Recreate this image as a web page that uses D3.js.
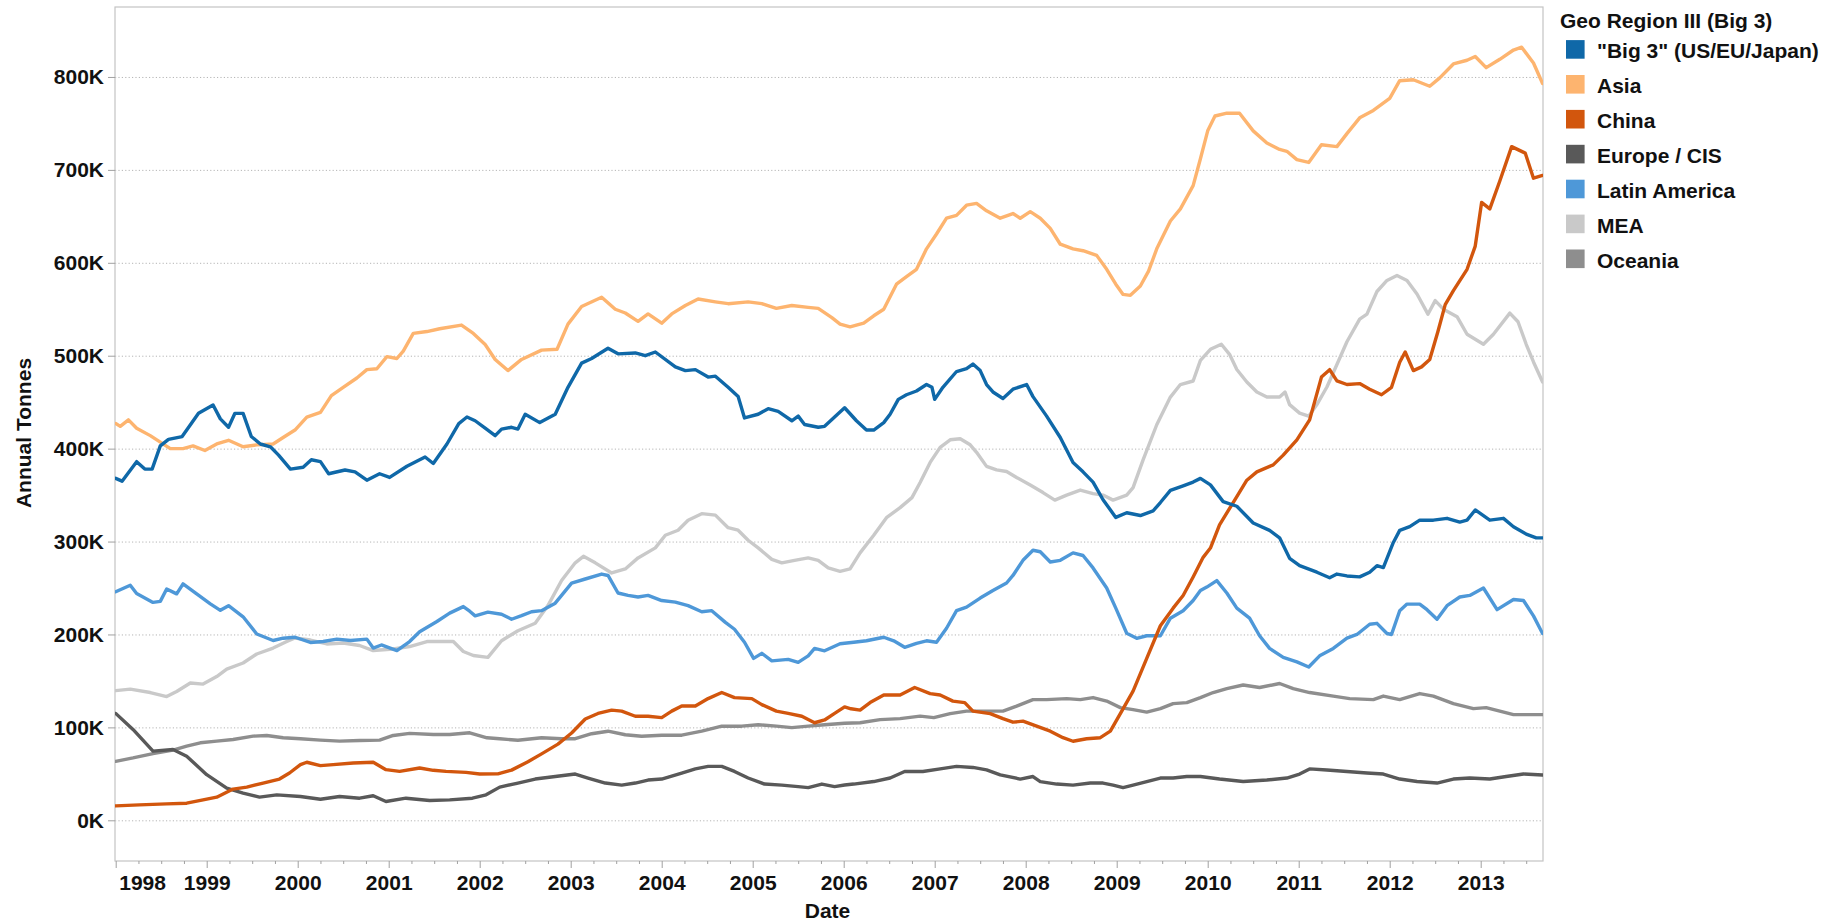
<!DOCTYPE html>
<html>
<head>
<meta charset="utf-8">
<script src="https://cdn.jsdelivr.net/npm/d3@7/dist/d3.min.js"></script>
<style>
  html, body { margin: 0; padding: 0; background: #fff; }
  svg { display: block; }
  text { font-family: "Liberation Sans", Arial, sans-serif; font-weight: bold; fill: #111; }
</style>
</head>
<body>
<svg id="chart" width="1843" height="921"></svg>
<script>
// ---- DATA (values in thousands of tonnes, dates as decimal years) ----
const legendTitle = "Geo Region III (Big 3)";
const categories = ['"Big 3" (US/EU/Japan)', "Asia", "China", "Europe / CIS", "Latin America", "MEA", "Oceania"];
const yTicks = [0, 100, 200, 300, 400, 500, 600, 700, 800];
const yearTicks = [1998,1999,2000,2001,2002,2003,2004,2005,2006,2007,2008,2009,2010,2011,2012,2013];

const big3 = [[1998.00,368],[1998.07,365],[1998.23,386],[1998.32,378],[1998.40,378],[1998.49,403],[1998.58,410],[1998.73,413],[1998.91,438],[1999.07,447],[1999.15,432],[1999.24,423],[1999.31,438],[1999.40,438],[1999.49,413],[1999.59,405],[1999.70,402],[1999.79,393],[1999.92,378],[2000.06,380],[2000.15,388],[2000.25,386],[2000.34,373],[2000.52,377],[2000.63,375],[2000.76,366],[2000.90,373],[2001.01,369],[2001.20,381],[2001.40,391],[2001.49,384],[2001.64,405],[2001.77,427],[2001.86,434],[2001.95,430],[2002.06,422],[2002.17,414],[2002.24,421],[2002.35,423],[2002.42,421],[2002.50,437],[2002.66,428],[2002.83,437],[2002.97,466],[2003.12,492],[2003.23,497],[2003.41,508],[2003.52,502],[2003.71,503],[2003.82,500],[2003.93,504],[2004.15,488],[2004.26,484],[2004.37,485],[2004.51,477],[2004.59,478],[2004.73,466],[2004.84,456],[2004.91,433],[2005.06,437],[2005.17,443],[2005.28,440],[2005.43,430],[2005.50,435],[2005.57,426],[2005.72,423],[2005.79,424],[2005.90,434],[2006.01,444],[2006.14,430],[2006.25,420],[2006.33,420],[2006.44,428],[2006.51,437],[2006.60,453],[2006.69,458],[2006.80,462],[2006.91,469],[2006.97,466],[2007.00,453],[2007.09,466],[2007.24,483],[2007.35,486],[2007.42,491],[2007.50,484],[2007.57,469],[2007.64,461],[2007.75,454],[2007.86,464],[2008.01,469],[2008.08,456],[2008.23,435],[2008.38,412],[2008.52,385],[2008.63,375],[2008.74,364],[2008.85,345],[2008.99,326],[2009.11,331],[2009.26,328],[2009.40,333],[2009.48,342],[2009.59,355],[2009.73,360],[2009.84,364],[2009.92,368],[2010.03,361],[2010.17,343],[2010.32,338],[2010.50,320],[2010.68,312],[2010.79,304],[2010.90,282],[2011.01,274],[2011.20,267],[2011.34,261],[2011.42,265],[2011.53,263],[2011.67,262],[2011.78,267],[2011.86,274],[2011.93,272],[2012.04,299],[2012.11,312],[2012.22,316],[2012.33,323],[2012.48,323],[2012.63,325],[2012.77,321],[2012.85,323],[2012.94,334],[2013.10,323],[2013.25,325],[2013.36,316],[2013.50,308],[2013.61,304],[2013.68,304]];

const asia = [[1998.00,427],[1998.05,424],[1998.14,431],[1998.23,422],[1998.38,414],[1998.49,407],[1998.60,400],[1998.74,400],[1998.85,403],[1998.98,398],[1999.11,405],[1999.24,409],[1999.40,402],[1999.55,404],[1999.73,405],[1999.84,412],[1999.97,420],[2000.10,434],[2000.25,439],[2000.37,457],[2000.50,466],[2000.65,476],[2000.76,485],[2000.87,486],[2000.98,499],[2001.09,497],[2001.16,505],[2001.27,524],[2001.42,526],[2001.56,529],[2001.80,533],[2001.93,524],[2002.06,512],[2002.17,496],[2002.31,484],[2002.46,496],[2002.68,506],[2002.85,507],[2002.97,534],[2003.12,553],[2003.34,563],[2003.49,550],[2003.60,546],[2003.74,537],[2003.85,545],[2004.00,535],[2004.11,545],[2004.26,554],[2004.40,561],[2004.59,558],[2004.73,556],[2004.95,558],[2005.10,556],[2005.26,551],[2005.43,554],[2005.61,552],[2005.72,551],[2005.87,541],[2005.96,534],[2006.07,531],[2006.22,535],[2006.33,543],[2006.44,550],[2006.58,577],[2006.69,585],[2006.80,593],[2006.91,615],[2007.02,631],[2007.13,648],[2007.24,651],[2007.35,662],[2007.46,664],[2007.57,656],[2007.72,648],[2007.86,653],[2007.94,648],[2008.05,655],[2008.16,648],[2008.27,637],[2008.38,620],[2008.52,615],[2008.63,613],[2008.78,608],[2008.89,593],[2008.99,577],[2009.07,566],[2009.15,565],[2009.26,575],[2009.35,591],[2009.44,615],[2009.59,645],[2009.70,658],[2009.84,683],[2009.92,712],[2010.00,742],[2010.08,758],[2010.21,761],[2010.35,761],[2010.50,742],[2010.65,729],[2010.79,722],[2010.87,720],[2010.98,711],[2011.11,708],[2011.25,727],[2011.42,725],[2011.53,739],[2011.67,756],[2011.82,764],[2012.00,777],[2012.11,796],[2012.26,797],[2012.44,790],[2012.55,799],[2012.70,814],[2012.85,818],[2012.94,822],[2013.06,810],[2013.21,819],[2013.36,829],[2013.45,832],[2013.58,815],[2013.68,793]];

const china = [[1998.00,15.5],[1998.26,16.6],[1998.56,17.7],[1998.78,18.4],[1998.96,22],[1999.11,24.9],[1999.29,33.6],[1999.44,35.7],[1999.62,40.1],[1999.80,44.4],[1999.91,50.9],[2000.03,59.9],[2000.10,62.5],[2000.25,58.8],[2000.39,59.9],[2000.61,61.7],[2000.83,62.5],[2000.97,54.5],[2001.12,52.7],[2001.34,56.3],[2001.49,53.8],[2001.63,52.7],[2001.85,51.6],[2002.00,49.8],[2002.20,50],[2002.35,54],[2002.53,63],[2002.68,71.5],[2002.86,82],[2003.01,94],[2003.16,109],[2003.30,115],[2003.45,118.6],[2003.56,117.5],[2003.71,112],[2003.85,112],[2004.00,110.5],[2004.11,117.5],[2004.22,123],[2004.37,123],[2004.51,131],[2004.66,137.5],[2004.80,132],[2004.99,131],[2005.10,124.5],[2005.26,117.5],[2005.39,115],[2005.54,112],[2005.68,105],[2005.79,108],[2005.90,115],[2006.01,122],[2006.08,120],[2006.18,118.6],[2006.29,126.7],[2006.44,134.8],[2006.62,134.8],[2006.78,142.9],[2006.95,136.4],[2007.06,134.8],[2007.20,128.3],[2007.33,126.7],[2007.42,117.5],[2007.61,114.8],[2007.75,109.4],[2007.86,105.6],[2007.97,106.7],[2008.12,101.3],[2008.27,95.9],[2008.41,88.9],[2008.52,85.1],[2008.67,87.8],[2008.82,88.9],[2008.93,95.9],[2009.04,114.8],[2009.18,139.1],[2009.33,174.3],[2009.48,209.4],[2009.62,228.3],[2009.73,241.9],[2009.84,261.9],[2009.95,283],[2010.03,293],[2010.13,318],[2010.28,342],[2010.43,366],[2010.54,375],[2010.72,382.5],[2010.83,393],[2010.98,409.5],[2011.12,431],[2011.25,477],[2011.34,485],[2011.42,473],[2011.53,469],[2011.67,470],[2011.78,464],[2011.91,458],[2012.02,466],[2012.11,493],[2012.17,504],[2012.26,484],[2012.35,488],[2012.44,496],[2012.53,526],[2012.61,555],[2012.70,570],[2012.85,593],[2012.94,618],[2013.01,665],[2013.10,658],[2013.21,688],[2013.34,725],[2013.49,718],[2013.58,691],[2013.68,694]];

const europe = [[1998.00,115],[1998.19,97.8],[1998.41,74.4],[1998.63,76.2],[1998.78,69],[1999.00,49.1],[1999.22,34.7],[1999.40,29.2],[1999.58,24.9],[1999.77,27.4],[2000.03,25.6],[2000.25,22.7],[2000.46,25.6],[2000.68,23.8],[2000.83,26.4],[2000.97,20.2],[2001.19,23.8],[2001.45,21.3],[2001.67,22],[2001.92,23.8],[2002.07,27.4],[2002.22,35.7],[2002.42,40.1],[2002.61,44.4],[2002.83,47.1],[2003.05,49.8],[2003.19,45.5],[2003.38,40.1],[2003.56,37.9],[2003.71,40.1],[2003.85,43.3],[2004.00,44.4],[2004.22,50.9],[2004.37,55.3],[2004.51,58],[2004.66,58],[2004.80,52.6],[2004.95,45.5],[2005.13,39],[2005.32,37.9],[2005.50,36.3],[2005.61,35.2],[2005.76,39],[2005.90,36.3],[2006.01,38],[2006.11,39],[2006.33,41.7],[2006.51,45.5],[2006.67,52.5],[2006.87,52.5],[2007.06,55.3],[2007.24,58],[2007.42,56.9],[2007.57,54.2],[2007.72,48.8],[2007.94,44.4],[2008.08,47.1],[2008.16,41.7],[2008.34,39],[2008.52,37.9],[2008.71,40.1],[2008.85,40.1],[2008.96,37.9],[2009.07,35.2],[2009.18,37.9],[2009.33,41.7],[2009.48,45.5],[2009.62,45.5],[2009.77,47.1],[2009.92,47.1],[2010.13,44.4],[2010.39,41.7],[2010.65,43.4],[2010.87,45.5],[2011.01,49.8],[2011.12,55.3],[2011.31,54.2],[2011.53,52.5],[2011.75,50.9],[2011.93,49.8],[2012.11,44.4],[2012.30,41.7],[2012.52,40.1],[2012.70,44.4],[2012.88,45.5],[2013.10,44.4],[2013.28,47.1],[2013.47,49.8],[2013.68,48.8]];

const latam = [[1998.00,246],[1998.16,253],[1998.23,244],[1998.41,234.5],[1998.49,235.6],[1998.56,249],[1998.67,243.7],[1998.74,254.5],[1998.89,243.7],[1999.04,233],[1999.15,226],[1999.24,231],[1999.40,219],[1999.55,200.5],[1999.73,193.5],[1999.84,196],[1999.97,197],[2000.14,191.4],[2000.28,192.4],[2000.43,195],[2000.58,193.5],[2000.76,195],[2000.83,185.4],[2000.92,188.7],[2001.09,182.7],[2001.23,192.4],[2001.34,203],[2001.53,214],[2001.67,223],[2001.82,230],[2001.89,225],[2001.95,220],[2002.09,224],[2002.24,221.8],[2002.35,216.4],[2002.46,220.2],[2002.57,224.5],[2002.68,225.6],[2002.83,233.7],[2003.01,255.3],[2003.16,259.7],[2003.34,265],[2003.41,263.5],[2003.52,244.6],[2003.63,242],[2003.74,240.3],[2003.85,242],[2004.00,236.5],[2004.15,234.8],[2004.29,231],[2004.44,224.5],[2004.55,225.6],[2004.70,213],[2004.80,205.6],[2004.91,191.6],[2005.01,174.3],[2005.10,179.7],[2005.21,171.6],[2005.39,173.2],[2005.50,170],[2005.61,177],[2005.68,185],[2005.79,182.4],[2005.96,190],[2006.11,191.6],[2006.25,193.2],[2006.44,197],[2006.55,193.2],[2006.67,186.2],[2006.80,190.5],[2006.91,193.2],[2007.02,191.6],[2007.13,206.7],[2007.24,225.6],[2007.35,229.4],[2007.50,239.2],[2007.64,247.3],[2007.79,255.4],[2007.86,263.5],[2007.97,279.8],[2008.08,290.6],[2008.16,289],[2008.27,278],[2008.38,279.8],[2008.52,287.8],[2008.63,285],[2008.74,271.6],[2008.89,250],[2008.99,228.3],[2009.11,201.3],[2009.22,195.9],[2009.33,198.6],[2009.48,198.6],[2009.59,217.5],[2009.73,225.6],[2009.84,236.5],[2009.92,247.3],[2009.99,251],[2010.10,258],[2010.21,244.6],[2010.32,228.3],[2010.46,217.5],[2010.57,198.6],[2010.68,185],[2010.83,175.3],[2010.98,170.5],[2011.11,165],[2011.23,177],[2011.38,185],[2011.53,196],[2011.64,200],[2011.78,211],[2011.86,212],[2011.97,201],[2012.02,200],[2012.11,225.6],[2012.19,232.7],[2012.33,232.7],[2012.41,226.7],[2012.52,216.4],[2012.63,231],[2012.77,240.3],[2012.88,242],[2013.03,250],[2013.18,226.7],[2013.36,237.6],[2013.47,236.5],[2013.58,220],[2013.68,201]];

const mea = [[1998.00,139.6],[1998.16,141.2],[1998.38,137.5],[1998.56,133.2],[1998.67,138.6],[1998.82,147.7],[1998.96,146.6],[1999.11,154.7],[1999.22,162.8],[1999.40,169.3],[1999.55,179],[1999.73,185.4],[1999.88,192.4],[1999.97,196.2],[2000.14,194],[2000.32,189.8],[2000.50,190.8],[2000.68,188.1],[2000.83,182.7],[2001.05,184.4],[2001.23,187],[2001.42,192.4],[2001.60,192.4],[2001.71,192.4],[2001.82,181.7],[2001.93,177.4],[2002.09,175.3],[2002.24,193.2],[2002.42,204],[2002.61,212.1],[2002.75,231.1],[2002.90,258.1],[2003.05,277.1],[2003.14,284.1],[2003.27,277.1],[2003.45,266.2],[2003.60,270.5],[2003.74,282.4],[2003.93,293.2],[2004.04,306.8],[2004.18,312.2],[2004.29,323],[2004.44,330],[2004.59,328.4],[2004.73,314.9],[2004.84,312.2],[2004.95,301.4],[2005.06,293.2],[2005.21,280.8],[2005.32,277.1],[2005.46,279.8],[2005.61,282.4],[2005.72,279.8],[2005.83,271.6],[2005.96,268],[2006.07,270.5],[2006.18,287.8],[2006.33,306.8],[2006.47,325.7],[2006.62,336.5],[2006.75,347.3],[2006.84,363.6],[2006.95,385.2],[2007.06,401.4],[2007.17,409.5],[2007.28,410.6],[2007.39,404.1],[2007.46,396],[2007.57,380.9],[2007.68,377.1],[2007.79,375.4],[2007.90,369],[2008.05,360.8],[2008.19,352.7],[2008.32,344.6],[2008.45,350],[2008.60,355.4],[2008.74,351.6],[2008.85,350],[2008.96,344.6],[2009.11,350],[2009.18,358.1],[2009.29,387.9],[2009.44,425.7],[2009.59,455.5],[2009.70,469],[2009.84,472.8],[2009.92,495],[2010.03,506.9],[2010.15,512.3],[2010.24,501.5],[2010.32,485.2],[2010.43,471.7],[2010.54,460.9],[2010.65,455.5],[2010.79,455.5],[2010.85,460.9],[2010.90,447.4],[2011.01,438.2],[2011.11,434.9],[2011.20,447.4],[2011.31,466.3],[2011.42,490.6],[2011.53,515],[2011.67,539.3],[2011.75,544.7],[2011.86,569.1],[2011.97,581],[2012.08,586.4],[2012.19,581],[2012.30,566.4],[2012.42,544.7],[2012.50,559.3],[2012.59,550.1],[2012.74,542],[2012.85,523.1],[2013.03,512.3],[2013.14,523.1],[2013.32,545.8],[2013.41,536.6],[2013.50,512.3],[2013.58,493.3],[2013.68,471.7]];

const oceania = [[1998.00,63.5],[1998.19,67.1],[1998.41,71.8],[1998.63,75.5],[1998.78,79.8],[1998.93,83.4],[1999.11,85.2],[1999.29,87],[1999.51,90.6],[1999.66,91.3],[1999.84,88.8],[2000.03,87.7],[2000.25,86.3],[2000.46,85.2],[2000.68,85.9],[2000.90,86.3],[2001.05,91.3],[2001.23,93.5],[2001.49,92.4],[2001.67,92.4],[2001.89,94.2],[2002.08,88.8],[2002.22,87.7],[2002.42,86.2],[2002.68,88.9],[2002.90,87.8],[2003.05,87.8],[2003.23,93.2],[2003.41,95.9],[2003.60,92.1],[2003.78,90.5],[2004.00,91.6],[2004.22,91.6],[2004.44,95.9],[2004.66,101.3],[2004.88,101.3],[2005.06,102.9],[2005.26,101.3],[2005.43,99.7],[2005.61,101.3],[2005.79,102.9],[2006.01,104.5],[2006.18,105],[2006.40,108.3],[2006.62,109.4],[2006.84,112.1],[2006.99,110.5],[2007.17,114.8],[2007.35,117.5],[2007.53,117.5],[2007.75,117.5],[2007.90,122.9],[2008.08,129.9],[2008.23,129.9],[2008.45,131],[2008.60,129.9],[2008.74,132.1],[2008.89,128.3],[2009.04,121.3],[2009.18,119.1],[2009.33,116.4],[2009.48,120.2],[2009.62,125.6],[2009.77,126.7],[2009.92,132.1],[2010.06,137.5],[2010.21,141.8],[2010.39,145.6],[2010.57,142.9],[2010.79,147.2],[2010.94,141.8],[2011.12,137.5],[2011.38,133.7],[2011.56,131],[2011.82,129.9],[2011.93,133.7],[2012.11,129.9],[2012.33,136.4],[2012.48,133.7],[2012.70,125.6],[2012.92,120.2],[2013.06,121.3],[2013.21,117.5],[2013.36,113.7],[2013.58,113.7],[2013.68,113.7]];

const seriesValues = [big3, asia, china, europe, latam, mea, oceania];
const colors = ["#0f68a8", "#fdb46f", "#d2560d", "#595959", "#4e98d8", "#c9c9c9", "#8e8e8e"];

// ---- LAYOUT ----
const svg = d3.select("#chart");
const L = 115, R = 1543, T = 7, B = 861;
const x = d3.scaleLinear().domain([1998 - 0.7/91, 1998 + (R - 115.7)/91]).range([L, R]);
const y = d3.scaleLinear().domain([-43.8, 875.3]).range([B, T]);

svg.append("rect").attr("width", 1843).attr("height", 921).attr("fill", "#fff");

// gridlines
const grid = svg.append("g").attr("transform", `translate(${L},0)`)
  .call(d3.axisLeft(y).tickValues(yTicks).tickSize(-(R - L)).tickFormat(""));
grid.select(".domain").remove();
grid.selectAll("line").attr("stroke", "#b5b5b5").attr("stroke-width", 1).attr("stroke-dasharray", "1.2,2.2");

// plot border
svg.append("rect").attr("x", L).attr("y", T).attr("width", R - L).attr("height", B - T)
  .attr("fill", "none").attr("stroke", "#c4c4c4").attr("stroke-width", 1.2);

// clip
svg.append("clipPath").attr("id", "clip").append("rect")
  .attr("x", L).attr("y", T).attr("width", R - L).attr("height", B - T);

// lines (draw in reverse legend order so Big 3 is on top)
const line = d3.line().x(d => x(d[0])).y(d => y(d[1]));
const gl = svg.append("g").attr("clip-path", "url(#clip)");
for (let i = seriesValues.length - 1; i >= 0; i--) {
  gl.append("path").datum(seriesValues[i])
    .attr("fill", "none").attr("stroke", colors[i]).attr("stroke-width", 3.4)
    .attr("stroke-linejoin", "round").attr("stroke-linecap", "round")
    .attr("d", line);
}

// y axis
const ya = svg.append("g").attr("transform", `translate(${L},0)`)
  .call(d3.axisLeft(y).tickValues(yTicks).tickSize(7).tickPadding(4).tickFormat(d => d + "K"));
ya.select(".domain").remove();
ya.selectAll("line").attr("stroke", "#a0a0a0");
ya.selectAll("text").style("font-size", "21px").style("font-family", '"Liberation Sans", Arial, sans-serif')
  .style("font-weight", "bold").attr("fill", "#111");

// x axis minor (quarters)
const quarters = [];
for (let yy = 1998; yy <= 2013; yy++) for (let q = 1; q < 4; q++) if (yy + q/4 < x.domain()[1]) quarters.push(yy + q/4);
const xm = svg.append("g").attr("transform", `translate(0,${B})`)
  .call(d3.axisBottom(x).tickValues(quarters).tickSize(3).tickFormat(""));
xm.select(".domain").remove();
xm.selectAll("line").attr("stroke", "#a0a0a0");

const xa = svg.append("g").attr("transform", `translate(0,${B})`)
  .call(d3.axisBottom(x).tickValues(yearTicks).tickSize(7).tickPadding(7).tickFormat(d3.format("d")));
xa.select(".domain").remove();
xa.selectAll("line").attr("stroke", "#a0a0a0");
xa.selectAll("text").style("font-size", "21px").style("font-family", '"Liberation Sans", Arial, sans-serif')
  .style("font-weight", "bold").attr("fill", "#111");
xa.selectAll(".tick").filter(d => d === 1998).select("text").attr("text-anchor", "start").attr("x", 3);

// axis titles
svg.append("text").attr("x", 827.5).attr("y", 918).attr("text-anchor", "middle")
  .style("font-size", "21px").text("Date");
svg.append("text").attr("transform", "translate(31,433) rotate(-90)").attr("text-anchor", "middle")
  .style("font-size", "21px").text("Annual Tonnes");

// legend
const lg = svg.append("g");
lg.append("text").attr("x", 1560).attr("y", 28).style("font-size", "21px").text(legendTitle);
const rowY = d3.scaleLinear().domain([0, 1]).range([49.4, 84.3]);
categories.forEach((c, i) => {
  const cy = rowY(i);
  lg.append("rect").attr("x", 1566).attr("y", cy - 9.3).attr("width", 18.6).attr("height", 18.6).attr("fill", colors[i]);
  lg.append("text").attr("x", 1597).attr("y", cy + 9).style("font-size", "21px").text(c);
});
</script>
</body>
</html>
